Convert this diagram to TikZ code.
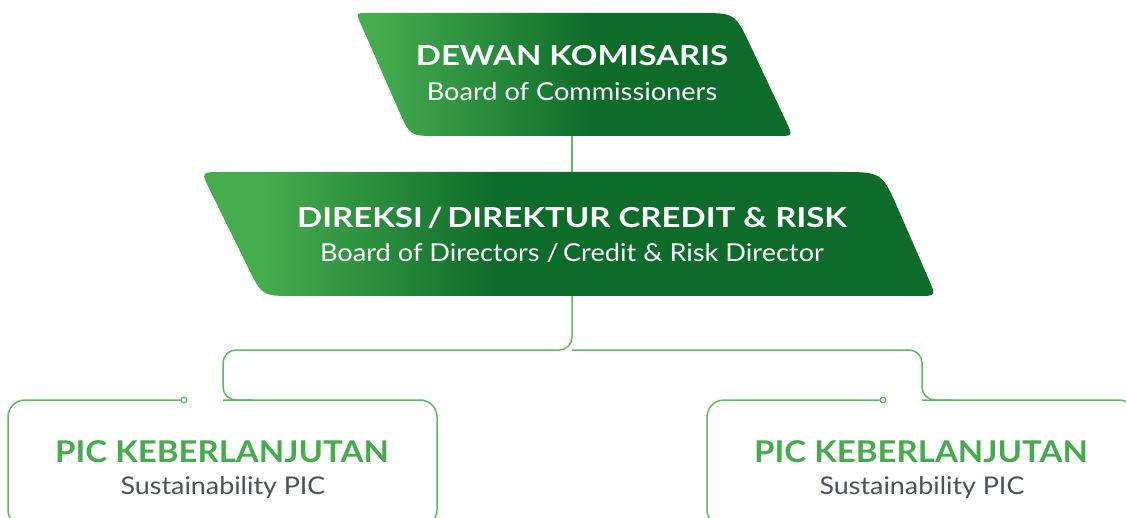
\documentclass[tikz,border=0pt]{standalone}
\usepackage{fontspec}
\setmainfont{Lato}
\newfontfamily\headfamily{Lato}[FakeStretch=1.2]
\newfontfamily\subfamily{Lato}[FakeStretch=1.1]
\usetikzlibrary{calc}
\definecolor{leafgreen}{HTML}{46AD4F}
\definecolor{deepgreen}{HTML}{0E6C2A}
\definecolor{linegreen}{HTML}{5CBA62}
\definecolor{picgreen}{HTML}{45AB4C}
\definecolor{picgray}{HTML}{4B5059}
\pgfdeclarehorizontalshading{komfade}{100bp}{color(0bp)=(leafgreen); color(27bp)=(leafgreen); color(52bp)=(deepgreen); color(100bp)=(deepgreen)}
\pgfdeclarehorizontalshading{dirfade}{100bp}{color(0bp)=(leafgreen); color(29bp)=(leafgreen); color(45bp)=(deepgreen); color(100bp)=(deepgreen)}
% slanted slab with its own radius at each corner
\newcommand{\slab}[5]{($(#1-tl)!.5!(#1-tr)$)
  -- ($(#1-tr)!#3pt!(#1-tl)$) .. controls (#1-tr) .. ($(#1-tr)!#3pt!(#1-br)$)
  -- ($(#1-br)!#4pt!(#1-tr)$) .. controls (#1-br) .. ($(#1-br)!#4pt!(#1-bl)$)
  -- ($(#1-bl)!#5pt!(#1-br)$) .. controls (#1-bl) .. ($(#1-bl)!#5pt!(#1-tl)$)
  -- ($(#1-tl)!#2pt!(#1-bl)$) .. controls (#1-tl) .. ($(#1-tl)!#2pt!(#1-tr)$) -- cycle}
\begin{document}
\begin{tikzpicture}[x=1pt,y=-1pt,
  link/.style={draw=linegreen, line width=1.5pt},
  tip/.style={circle, draw=linegreen, line width=1.2pt, fill=white, inner sep=0pt, minimum size=5.5pt},
  head/.style={text=white, anchor=base, inner sep=0pt, font=\fontsize{27.5}{33}\headfamily\bfseries},
  sub/.style={text=white, anchor=base, inner sep=0pt, font=\fontsize{24.7}{30}\subfamily},
  pichead/.style={text=picgreen, anchor=base, inner sep=0pt, font=\fontsize{30}{36}\subfamily\bfseries},
  picsub/.style={text=picgray, anchor=base, inner sep=0pt, font=\fontsize{24.4}{29}\subfamily}]
\useasboundingbox (0,0) rectangle (1126,518);
\clip (0,0) rectangle (1126,518);

\coordinate (dk-tl) at (356,13);
\coordinate (dk-tr) at (735,13);
\coordinate (dk-br) at (793,136);
\coordinate (dk-bl) at (410,136);
\coordinate (dr-tl) at (201,172);
\coordinate (dr-tr) at (882,172);
\coordinate (dr-br) at (936,296);
\coordinate (dr-bl) at (262,296);

\coordinate (dk-s) at (572,136);
\coordinate (dr-n) at (572,172);
\coordinate (dr-s) at (572,296);
\coordinate (fork) at (572,350);
\coordinate (picL-join) at (223,400);
\coordinate (picR-join) at (922,400);

\coordinate (picL-nw) at (8,400);
\coordinate (picL-sw) at (8,527);
\coordinate (picL-se) at (437,527);
\coordinate (picL-ne) at (437,400);
\coordinate (picR-nw) at (707,400);
\coordinate (picR-sw) at (707,527);
\coordinate (picR-se) at (1136,527);
\coordinate (picR-ne) at (1136,400);

\draw[link] (dk-s) -- (dr-n);
\draw[link, rounded corners=13] (dr-s) -- (fork) -| (picL-join) -- ++(30,0);
\draw[link, rounded corners=13] (fork) -| (picR-join) -- ++(30,0);

\shade[shading=komfade] \slab{dk}{10}{36}{16}{28};
\shade[shading=dirfade] \slab{dr}{20}{42}{18}{32};

\node[tip] (tipL) at (184,400) {};
\node[tip] (tipR) at (883,400) {};
\draw[link, rounded corners=17] (tipL.west) -- (picL-nw) -- (picL-sw)
  -- (picL-se) -- (picL-ne) -- (picL-join);
\draw[link, rounded corners=17] (tipR.west) -- (picR-nw) -- (picR-sw)
  -- (picR-se) -- (picR-ne) -- (picR-join);

\node[head] (dk-title) at (572,66) {DEWAN KOMISARIS};
\node[sub] (dk-sub) at (572,101) {Board of Commissioners};
\node[head] (dr-title) at (572,228) {DIREKSI\,/\,DIREKTUR CREDIT \& RISK};
\node[sub] (dr-sub) at (572,262) {Board of Directors /\,Credit \& Risk Director};
\node[pichead] (picL-title) at (222,462) {PIC KEBERLANJUTAN};
\node[picsub] (picL-sub) at (223,494) {Sustainability PIC};
\node[pichead] (picR-title) at (921,462) {PIC KEBERLANJUTAN};
\node[picsub] (picR-sub) at (922,494) {Sustainability PIC};
\end{tikzpicture}
\end{document}
